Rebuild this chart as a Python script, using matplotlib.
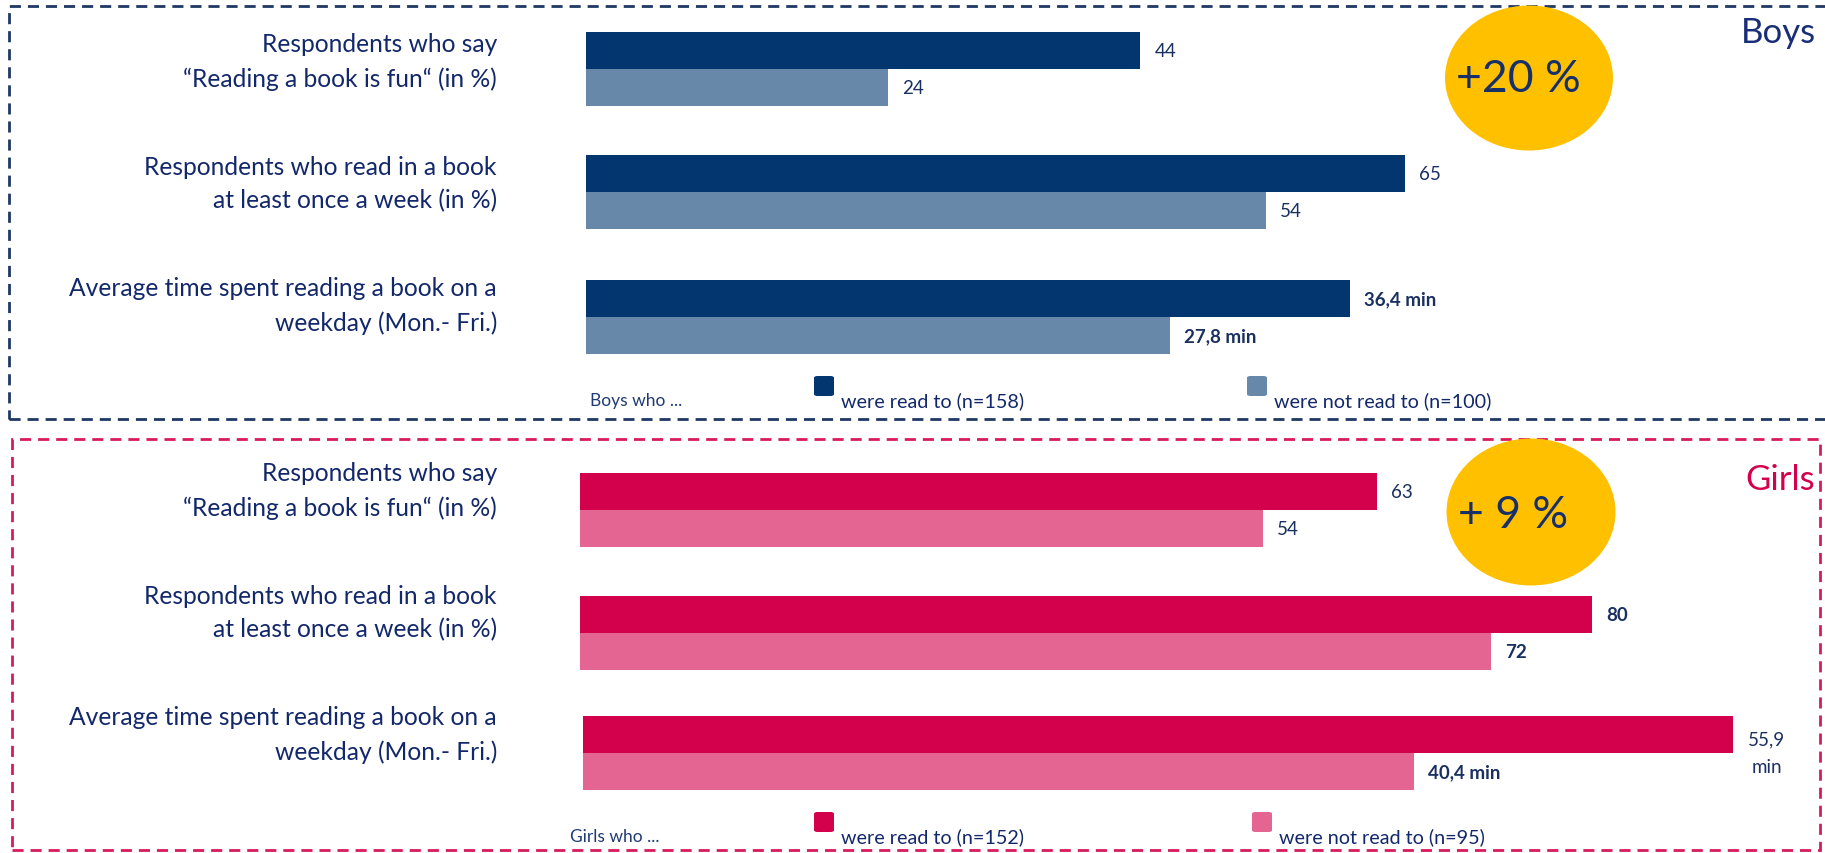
import matplotlib
matplotlib.use("Agg")
import matplotlib.pyplot as plt
from matplotlib.patches import Rectangle, Ellipse, FancyBboxPatch

plt.rcParams['font.family'] = ['Lato', 'DejaVu Sans']

# data
categories = ['Respondents who say\n\u201cReading a book is fun\u201c (in %)',
              'Respondents who read in a book\nat least once a week (in %)',
              'Average time spent reading a book on a\nweekday (Mon.- Fri.)']
boys_read = [44, 65, 36.4]
boys_not = [24, 54, 27.8]
girls_read = [63, 80, 55.9]
girls_not = [54, 72, 40.4]
boys_bold_read = [False, False, True]
boys_bold_not = [False, False, True]
girls_bold_read = [False, True, False]
girls_bold_not = [False, True, True]
boys_legend = ['Boys who ...', 'were read to (n=158)', 'were not read to (n=100)']
girls_legend = ['Girls who ...', 'were read to (n=152)', 'were not read to (n=95)']
boys_delta = '+20 %'
girls_delta = '+ 9 %'

NAVY = '#13286b'
VAL = '#1a3060'
BOY_DARK, BOY_LIGHT = '#03366f', '#6888aa'
GIRL_DARK, GIRL_LIGHT = '#d3004c', '#e46591'
YELLOW = '#ffc000'

W, H = 1825, 854
fig = plt.figure(figsize=(W / 100, H / 100), dpi=100)


def fx(x):
    return x / W


def fy(y):
    return 1 - y / H


def fmt(v, minutes, sep=' '):
    s = ('%g' % v).replace('.', ',')
    return s + sep + 'min' if minutes else s


def panel(read, notread, bold_r, bold_n, c_dark, c_light, tops, starts,
          ppu, label_y, legend, leg_y, leg_x, wrap_read_min=False):
    for i in range(3):
        top = tops[i]
        bot = top + 74
        x0 = starts[i]
        width = 1800 - x0
        ax = fig.add_axes([fx(x0), fy(bot), width / W, (bot - top) / H])
        minutes = i == 2
        scale = ppu[1] if minutes else ppu[0]
        ax.barh([0, 1], [read[i], notread[i]], height=1.0,
                color=[c_dark, c_light], edgecolor='none')
        ax.set_xlim(0, width / scale)
        ax.set_ylim(1.5, -0.5)
        ax.axis('off')
        if minutes and wrap_read_min:
            ax.annotate(fmt(read[i], True, '\n'), (read[i], 0.5), xytext=(11, 0),
                        textcoords='offset points', ha='left', va='center',
                        multialignment='center', linespacing=1.75,
                        fontsize=13.5, color=VAL,
                        fontweight='bold' if bold_r[i] else 'normal')
        else:
            ax.annotate(fmt(read[i], minutes), (read[i], 0), xytext=(10, 0),
                        textcoords='offset points', ha='left', va='center',
                        fontsize=13.5, color=VAL,
                        fontweight='bold' if bold_r[i] else 'normal')
        ax.annotate(fmt(notread[i], minutes), (notread[i], 1), xytext=(10, 0),
                    textcoords='offset points', ha='left', va='center',
                    fontsize=13.5, color=VAL,
                    fontweight='bold' if bold_n[i] else 'normal')
        fig.text(fx(497), fy(label_y[i]), categories[i], ha='right', va='center',
                 multialignment='right', fontsize=17.7, color=NAVY, linespacing=1.55)

    # legend row
    fig.text(fx(leg_x[0]), fy(leg_y + 24), legend[0], ha='left', va='center',
             fontsize=12.5, color='#1f3b73')
    for k, c in enumerate([c_dark, c_light]):
        sx = leg_x[k + 1]
        fig.add_artist(FancyBboxPatch((fx(sx), fy(leg_y + 20)), 20 / W, 20 / H,
                                      boxstyle='round,pad=0,rounding_size=0.002',
                                      transform=fig.transFigure, facecolor=c,
                                      edgecolor='none'))
        fig.text(fx(sx + 27), fy(leg_y + 24), legend[k + 1], ha='left', va='center',
                 fontsize=14.2, color=NAVY)


# boys panel
fig.add_artist(Rectangle((fx(9), fy(420)), (1850 - 9) / W, (420 - 7) / H,
                         transform=fig.transFigure, fill=False, edgecolor='#1f3864',
                         linewidth=2, linestyle=(0, (4, 2.5))))
panel(boys_read, boys_not, boys_bold_read, boys_bold_not, BOY_DARK, BOY_LIGHT,
      [33, 156, 281], [586, 586, 586], (12.6, 21.0), [62, 184, 306],
      boys_legend, 377, [590, 814, 1247])

# girls panel
fig.add_artist(Rectangle((fx(12), fy(851)), (1820 - 12) / W, (851 - 440) / H,
                         transform=fig.transFigure, fill=False, edgecolor='#d81b5a',
                         linewidth=2, linestyle=(0, (4, 2.5))))
panel(girls_read, girls_not, girls_bold_read, girls_bold_not, GIRL_DARK, GIRL_LIGHT,
      [474, 597, 717], [580, 580, 583], (12.65, 20.57), [491, 613, 735],
      girls_legend, 813, [570, 814, 1252], wrap_read_min=True)

# highlight bubbles
for (cx, cy, ew, eh, tx, ty, txt) in [(1529, 79, 168, 145, 1518, 79, boys_delta),
                                       (1531, 513, 169, 147, 1513, 516, girls_delta)]:
    fig.add_artist(Ellipse((fx(cx), fy(cy)), ew / W, eh / H, transform=fig.transFigure,
                           facecolor=YELLOW, edgecolor='none'))
    fig.text(fx(tx), fy(ty), txt, ha='center', va='center', fontsize=32, color='#17306a')

fig.text(fx(1816), fy(43), 'Boys', ha='right', va='baseline', fontsize=25, color='#1a2e78')
fig.text(fx(1815), fy(490), 'Girls', ha='right', va='baseline', fontsize=25, color=GIRL_DARK)

fig.savefig('out.png', dpi=100)
